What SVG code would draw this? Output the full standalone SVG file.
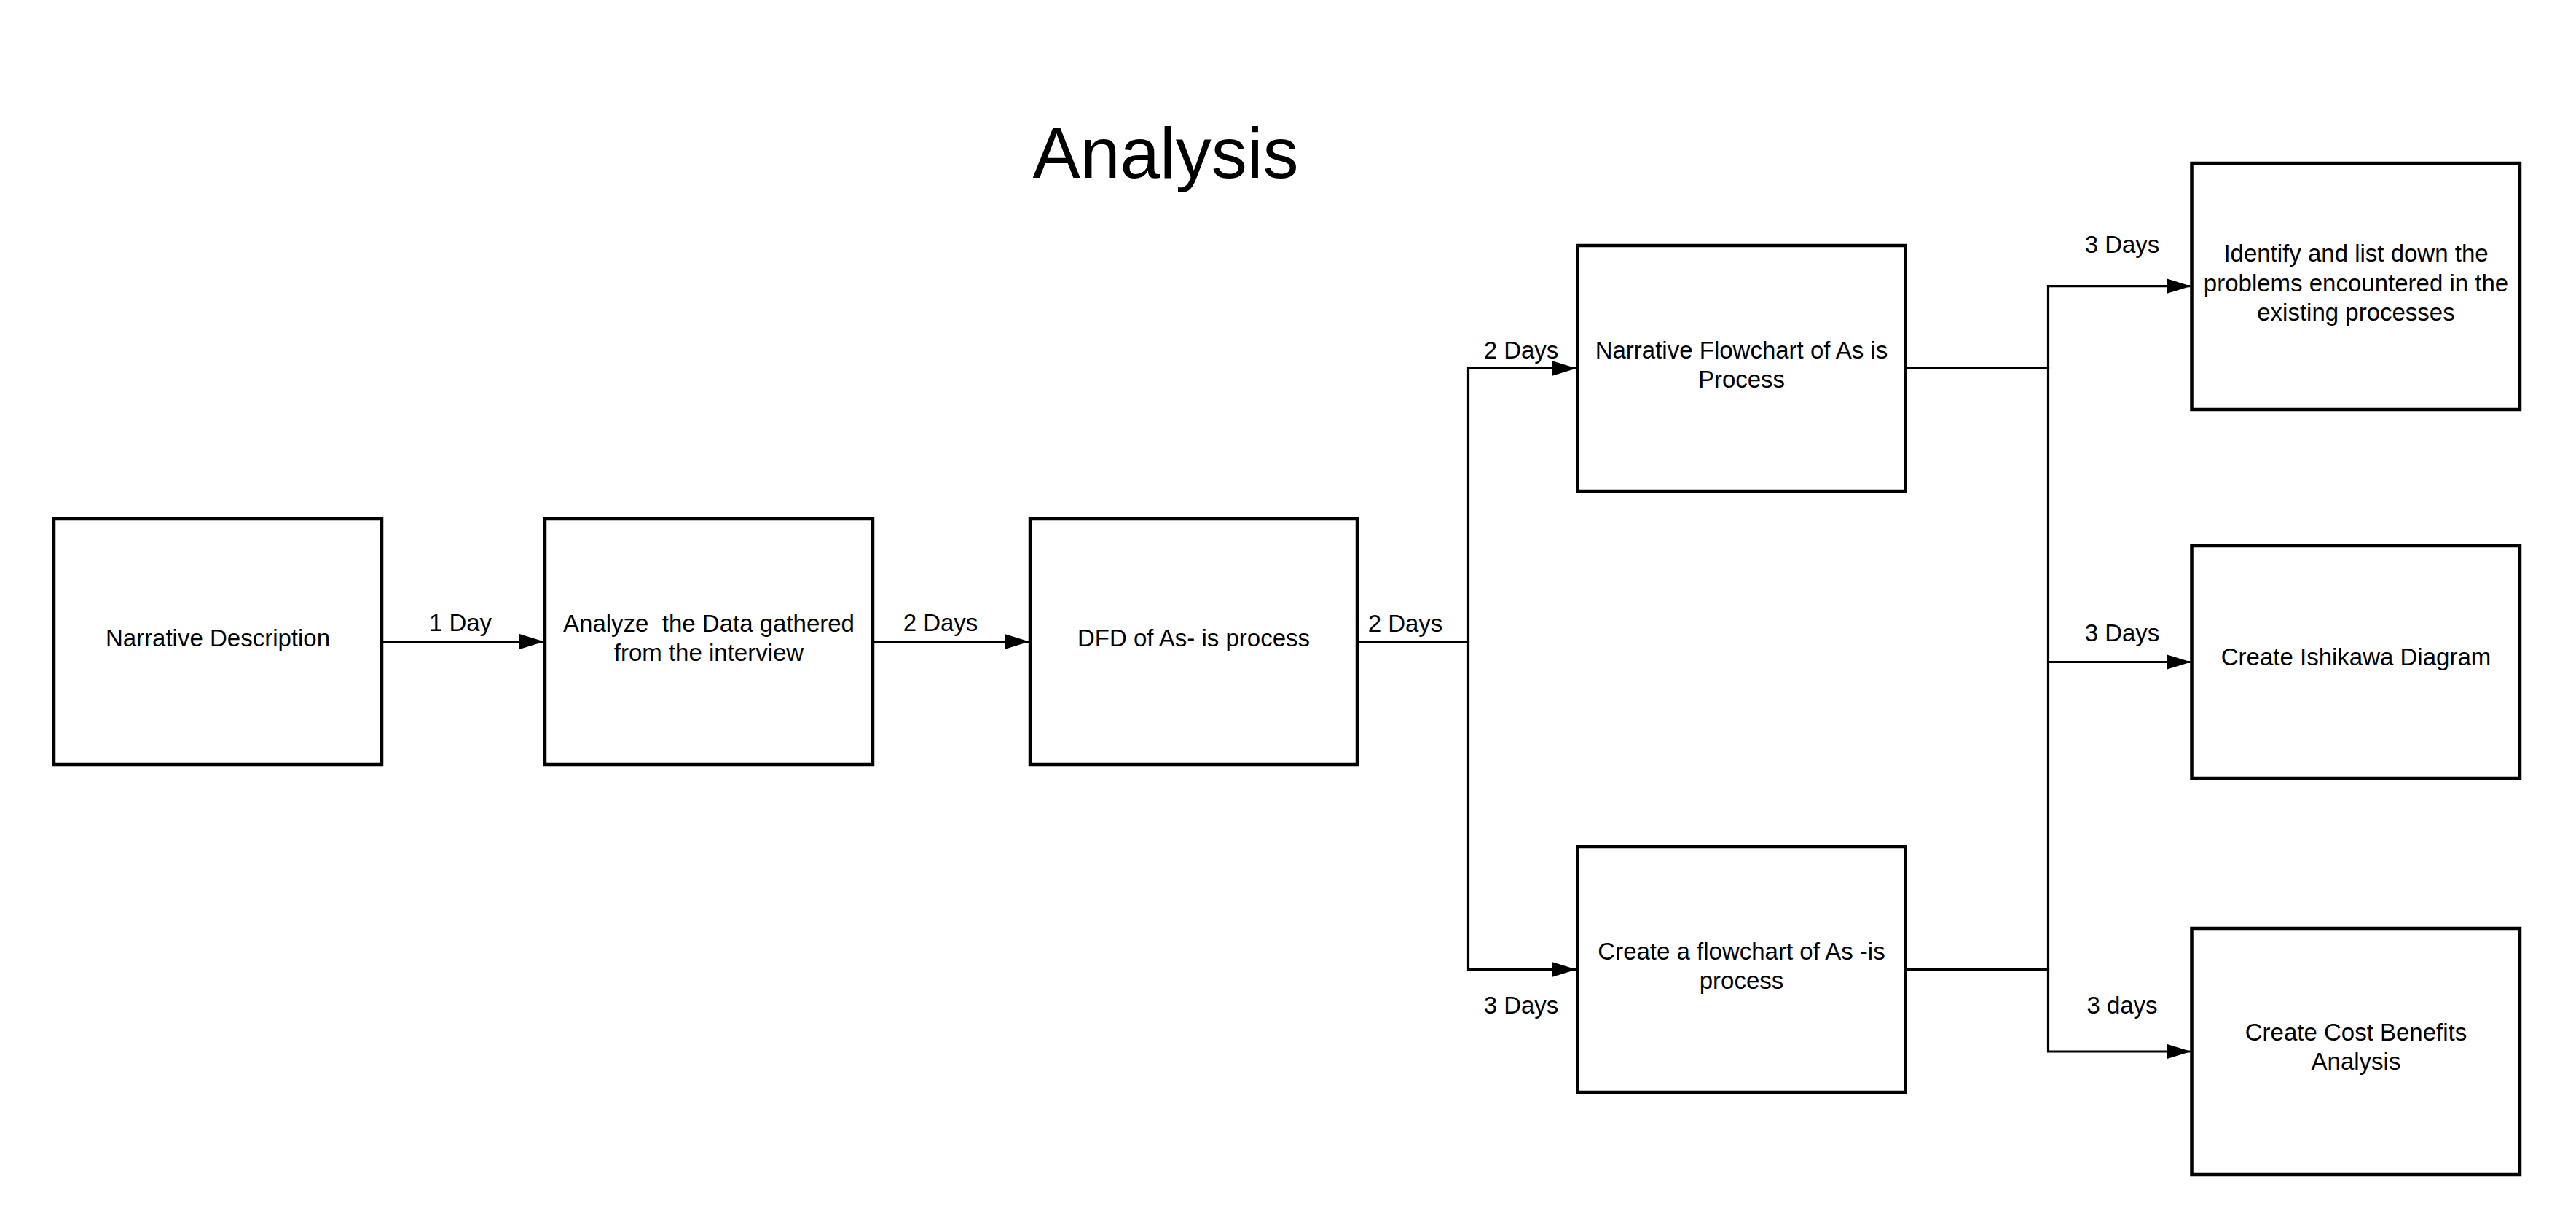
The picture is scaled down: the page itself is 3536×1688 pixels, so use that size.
<svg xmlns="http://www.w3.org/2000/svg" width="3536" height="1688" viewBox="0 0 3536 1688">
<defs>
<style>
.box{fill:#fff;stroke:#000;stroke-width:4.5}
.t{font-family:"Liberation Sans",Arial,sans-serif;font-size:33px;fill:#000;text-anchor:middle}
.title{font-family:"Liberation Sans",Arial,sans-serif;font-size:98px;fill:#000;text-anchor:middle}
.c{fill:none;stroke:#000;stroke-width:3.2}
</style>
<marker id="ah" markerUnits="userSpaceOnUse" markerWidth="34" markerHeight="22" refX="33" refY="10.5" orient="auto">
<polygon points="0,0 34,10.5 0,21" fill="#000"/>
</marker>
</defs>
<rect width="3536" height="1688" fill="#fff"/>
<text class="title" x="1600" y="244">Analysis</text>
<g id="connectors">
<path class="c" d="M524,880.5 H746" marker-end="url(#ah)"/>
<path class="c" d="M1198,880.5 H1412" marker-end="url(#ah)"/>
<path class="c" d="M1863,880.5 H2015.5 V505.5 H2163" marker-end="url(#ah)"/>
<path class="c" d="M1863,880.5 H2015.5 V1330.5 H2163" marker-end="url(#ah)"/>
<path class="c" d="M2615.5,505.5 H2811.5 V392.7 H3006.5" marker-end="url(#ah)"/>
<path class="c" d="M2615.5,505.5 H2811.5 V908.5 H3006.5" marker-end="url(#ah)"/>
<path class="c" d="M2615.5,1330.5 H2811.5 V908.5"/>
<path class="c" d="M2615.5,1330.5 H2811.5 V1443 H3006.5" marker-end="url(#ah)"/>
<text class="t" x="632" y="866">1 Day</text>
<text class="t" x="1291" y="866">2 Days</text>
<text class="t" x="1929" y="867">2 Days</text>
<text class="t" x="2088" y="492">2 Days</text>
<text class="t" x="2088" y="1391">3 Days</text>
<text class="t" x="2913" y="347">3 Days</text>
<text class="t" x="2913" y="880">3 Days</text>
<text class="t" x="2913" y="1391">3 days</text>
</g>
<g id="n1">
<rect class="box" x="74" y="712" width="450" height="337"/>
<text class="t" x="299" y="887">Narrative Description</text>
</g>
<g id="n2">
<rect class="box" x="748" y="712" width="450" height="337"/>
<text class="t" x="973" y="867" xml:space="preserve">Analyze  the Data gathered</text>
<text class="t" x="973" y="907">from the interview</text>
</g>
<g id="n3">
<rect class="box" x="1414" y="712" width="449" height="337"/>
<text class="t" x="1638.5" y="887">DFD of As- is process</text>
</g>
<g id="n4">
<rect class="box" x="2165.5" y="337" width="450" height="337"/>
<text class="t" x="2390.5" y="492">Narrative Flowchart of As is</text>
<text class="t" x="2390.5" y="532">Process</text>
</g>
<g id="n5">
<rect class="box" x="2165.5" y="1162" width="450" height="337"/>
<text class="t" x="2390.5" y="1317">Create a flowchart of As -is</text>
<text class="t" x="2390.5" y="1357">process</text>
</g>
<g id="n6">
<rect class="box" x="3008.5" y="224" width="450.5" height="338"/>
<text class="t" x="3234" y="359">Identify and list down the</text>
<text class="t" x="3234" y="400">problems encountered in the</text>
<text class="t" x="3234" y="440">existing processes</text>
</g>
<g id="n7">
<rect class="box" x="3008.5" y="749" width="450.5" height="319"/>
<text class="t" x="3234" y="913">Create Ishikawa Diagram</text>
</g>
<g id="n8">
<rect class="box" x="3008.5" y="1274" width="450.5" height="338"/>
<text class="t" x="3234" y="1428">Create Cost Benefits</text>
<text class="t" x="3234" y="1468">Analysis</text>
</g>
</svg>
